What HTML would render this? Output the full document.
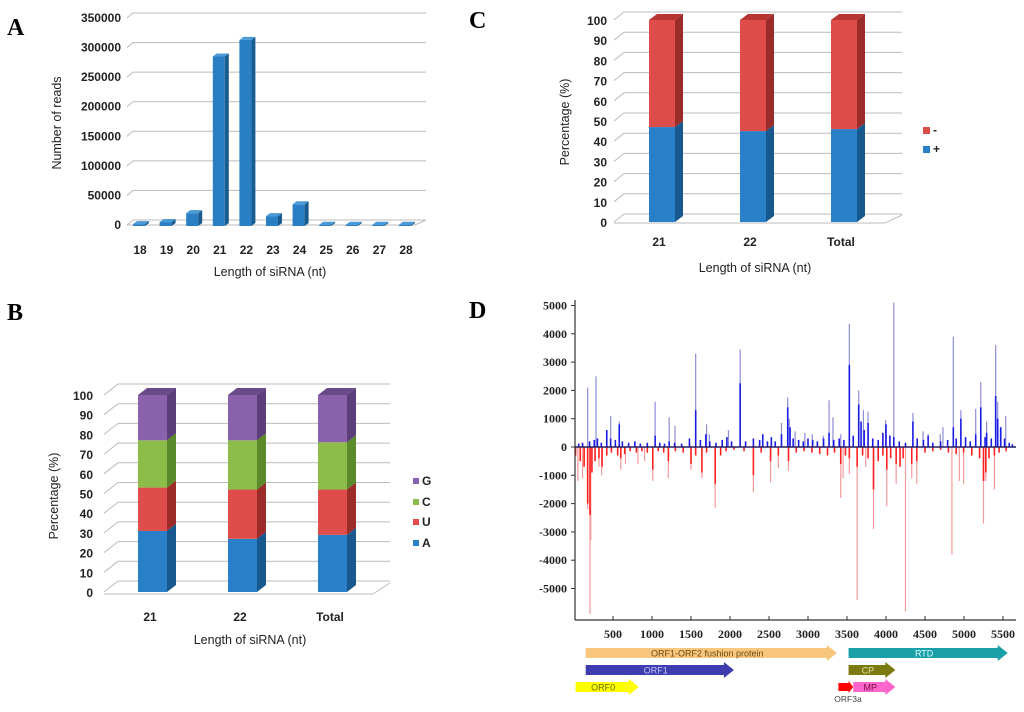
<!DOCTYPE html>
<html><head><meta charset="utf-8"><style>
html,body{margin:0;padding:0;background:#fff;}
svg{display:block;font-family:"Liberation Sans",sans-serif;}
.tk{font-size:12px;font-weight:bold;fill:#222;}
.tt{font-size:12.5px;fill:#222;}
.tm{font-family:"Liberation Serif",serif;font-size:12px;font-weight:bold;fill:#222;}
.pl{font-family:"Liberation Serif",serif;font-size:24px;font-weight:bold;fill:#000;}
</style></head><body>
<svg id="fig" width="1024" height="712" viewBox="0 0 1024 712">
<text class="pl" x="7" y="35">A</text>
<text class="pl" x="469" y="28">C</text>
<text class="pl" x="7" y="320">B</text>
<text class="pl" x="469" y="318">D</text>
<g id="ga"></g>
<g id="gc"></g>
<g id="gb"></g>
<g id="gd"></g>
</svg>
<script>
// ---------- data ----------
const aCats = ["18","19","20","21","22","23","24","25","26","27","28"];
const aVals = [1500,5000,20000,285000,313000,15000,35000,500,500,500,500];
const aTicks = [0,50000,100000,150000,200000,250000,300000,350000];

const cCats = ["21","22","Total"];
const cPlus = [47,45,46];
const cMinus = [53,55,54];
const pctTicks = [0,10,20,30,40,50,60,70,80,90,100];

const bCats = ["21","22","Total"];
const bA = [31,27,29];
const bU = [22,25,23];
const bC = [24,25,24];
const bG = [23,23,24];

const dYTicks = [5000,4000,3000,2000,1000,0,-1000,-2000,-3000,-4000,-5000];
const dXTicks = [500,1000,1500,2000,2500,3000,3500,4000,4500,5000,5500];
// tall light spikes [nt, reads]
const posTall = [[175,2100],[282,2500],[470,1100],[580,900],[1040,1600],[1220,1050],[1295,750],[1560,3300],[1700,800],[1735,450],[1980,600],[2130,3450],[2420,450],[2660,850],[2740,1750],[2760,1000],[2835,550],[2960,500],[3055,450],[3195,400],[3270,1650],[3320,1050],[3420,450],[3530,4350],[3650,2000],[3710,1300],[3770,1250],[3995,950],[4100,5100],[4345,1200],[4475,550],[4540,450],[4695,450],[4730,700],[4863,3900],[4960,1300],[5150,1350],[5215,2300],[5290,900],[5406,3600],[5432,1600],[5475,700],[5535,1100]];
// dense dark spikes [nt, reads]
const posDense = [[60,120],[110,150],[200,200],[260,250],[300,300],[350,150],[420,600],[470,300],[530,250],[580,800],[620,200],[700,150],[780,200],[850,120],[940,150],[1040,400],[1100,150],[1160,120],[1220,200],[1290,150],[1380,120],[1480,300],[1560,1300],[1620,250],[1690,450],[1740,200],[1820,150],[1900,250],[1960,350],[2020,200],[2130,2250],[2200,200],[2300,300],[2380,250],[2420,450],[2480,200],[2530,350],[2580,200],[2660,450],[2740,1400],[2770,700],[2810,300],[2880,250],[2940,200],[3000,300],[3060,250],[3120,200],[3200,300],[3270,500],[3330,250],[3400,300],[3460,250],[3530,2900],[3580,400],[3650,1500],[3680,900],[3720,600],[3770,850],[3830,300],[3900,250],[3960,500],[4000,800],[4050,400],[4100,350],[4170,200],[4250,150],[4345,900],[4400,300],[4480,250],[4540,400],[4600,150],[4700,200],[4790,250],[4863,700],[4900,300],[4960,1000],[5020,350],[5080,200],[5150,450],[5215,1400],[5270,350],[5290,500],[5350,300],[5406,1800],[5432,1000],[5470,700],[5520,300],[5580,150],[5620,100]];
const negTall = [[50,-1200],[110,-1100],[175,-2200],[205,-5900],[215,-3300],[320,-700],[355,-1000],[600,-800],[660,-600],[820,-600],[905,-500],[1010,-1200],[1210,-1100],[1500,-800],[1640,-1100],[1810,-2150],[2300,-1600],[2520,-1250],[2620,-750],[2750,-850],[3420,-1800],[3450,-1100],[3530,-950],[3630,-5400],[3740,-700],[3840,-2900],[4010,-2100],[4130,-1300],[4250,-5800],[4330,-1100],[4395,-1300],[4845,-3800],[4940,-1200],[4995,-1300],[5250,-2700],[5280,-1200],[5390,-1500]];
const negDense = [[20,-300],[80,-500],[130,-700],[175,-2000],[205,-2400],[230,-900],[270,-500],[320,-400],[360,-700],[420,-300],[480,-200],[560,-300],[600,-400],[650,-250],[720,-150],[800,-200],[870,-150],[940,-200],[1010,-800],[1080,-150],[1150,-200],[1210,-500],[1300,-150],[1400,-200],[1500,-600],[1560,-300],[1640,-900],[1700,-200],[1810,-1300],[1880,-300],[1950,-150],[2050,-100],[2180,-150],[2300,-1000],[2400,-200],[2520,-500],[2620,-300],[2750,-500],[2850,-200],[2950,-150],[3050,-200],[3150,-250],[3250,-300],[3340,-200],[3420,-600],[3480,-300],[3530,-400],[3630,-700],[3700,-300],[3770,-400],[3840,-1500],[3900,-500],[3960,-300],[4010,-800],[4060,-400],[4130,-600],[4180,-700],[4220,-400],[4330,-600],[4395,-500],[4500,-200],[4600,-150],[4700,-100],[4800,-200],[4900,-250],[4995,-200],[5100,-300],[5200,-400],[5250,-1200],[5280,-900],[5320,-400],[5390,-300],[5450,-200],[5540,-150]];
const genes = [["ORF1-ORF2 fushion protein",150,3370,0,"#f9c67e","#6a4a10"],["RTD",3520,5560,0,"#1aa0a8","#e0ffff"],["ORF1",150,2050,1,"#3d3db0","#c8c8ff"],["CP",3520,4120,1,"#7a7a10","#e0e0a0"],["ORF0",20,830,2,"#ffff00","#6a6a00"],["MP",3580,4120,2,"#ff66cc","#7a0a40"]];

// ---------- helpers ----------
const NS="http://www.w3.org/2000/svg";
function mk(p,tag,at,txt){const e=document.createElementNS(NS,tag);for(const k in at)e.setAttribute(k,at[k]);if(txt!==undefined)e.textContent=txt;p.appendChild(e);return e;}
function bar3d(g,x,w,y1,y0,dx,dy,front,side,top,showTop){
  const f=mk(g,'rect',{x:x,y:y1,width:w,height:y0-y1,fill:front});
  
  
  const s=mk(g,'polygon',{points:`${x+w},${y1} ${x+w+dx},${y1+dy} ${x+w+dx},${y0+dy} ${x+w},${y0}`,fill:side});
  
  
  if(showTop){const t=mk(g,'polygon',{points:`${x},${y1} ${x+dx},${y1+dy} ${x+w+dx},${y1+dy} ${x+w},${y1}`,fill:top});
  
  }
}
function grid3d(g,xl,xb,xr,xfr,ys,ybase,dx,dy){
  ys.forEach(y=>{const l=mk(g,'polyline',{points:`${xl},${y} ${xl+dx},${y+dy} ${xr},${y+dy}`,fill:'none',stroke:'#bbb','stroke-width':1});
  
  });
  const fl=mk(g,'polyline',{points:`${xl},${ybase} ${xfr},${ybase} ${xr},${ybase+dy}`,fill:'none',stroke:'#bbb','stroke-width':1});
  
  
}

// ---------- Panel A ----------
(function(){
  const g=document.getElementById('ga');
  const yA=v=>225-v*207/350000;
  const xA=i=>140+i*26.6;
  grid3d(g,127,133,426,415,aTicks.map(yA),225,6,-5);
  aTicks.forEach(t=>{const e=mk(g,'text',{x:121,y:yA(t)+4,'text-anchor':'end',class:'tk'},String(t));
    
    });
  aVals.forEach((v,i)=>{bar3d(g,xA(i)-7,12,yA(v),226,4,-3,'#2a7fc4','#175b8f','#4a9ad8',true);});
  aCats.forEach((c,i)=>{const e=mk(g,'text',{x:xA(i),y:254,'text-anchor':'middle',class:'tk'},c);
    
    });
  const xt=mk(g,'text',{x:270,y:276,'text-anchor':'middle',class:'tt'},'Length of siRNA (nt)');
  
  
  const yt=mk(g,'text',{x:0,y:0,'text-anchor':'middle',class:'tt',transform:'translate(61,123) rotate(-90)'},'Number of reads');
  
  
})();

// ---------- Panel C ----------
(function(){
  const g=document.getElementById('gc');
  const yC=v=>222-v*2.02;
  const xC=i=>649+i*91;
  grid3d(g,614,624,902,885,pctTicks.map(yC),223,10,-8);
  pctTicks.forEach(t=>{const e=mk(g,'text',{x:607,y:yC(t)+5,'text-anchor':'end',class:'tk'},String(t));
    
    });
  cCats.forEach((c,i)=>{
    bar3d(g,xC(i),26,yC(cPlus[i]),yC(0),8,-6,'#2a80c8','#17588f','#4a9ad8',false);
    bar3d(g,xC(i),26,yC(cPlus[i]+cMinus[i]),yC(cPlus[i]),8,-6,'#de4d4a','#9c2c2a','#b83533',true);
    const e=mk(g,'text',{x:xC(i)+10,y:246,'text-anchor':'middle',class:'tk','font-size':'10.5px'},c);
    
    
  });
  const l1=mk(g,'rect',{x:923,y:127,width:7,height:7,fill:'#de4d4a'});
  
  
  const l1t=mk(g,'text',{x:933,y:134,class:'tk','font-size':'10px'},'-');
  
  
  const l2=mk(g,'rect',{x:923,y:146,width:7,height:7,fill:'#2a80c8'});
  
  
  const l2t=mk(g,'text',{x:933,y:153,class:'tk','font-size':'10px'},'+');
  
  
  const xt=mk(g,'text',{x:755,y:272,'text-anchor':'middle',class:'tt'},'Length of siRNA (nt)');
  
  
  const yt=mk(g,'text',{x:0,y:0,'text-anchor':'middle',class:'tt',transform:'translate(569,122) rotate(-90)'},'Percentage (%)');
  
  
})();

// ---------- Panel B ----------
(function(){
  const g=document.getElementById('gb');
  const yB=v=>592-v*1.97;
  const xB=i=>138+i*90;
  grid3d(g,104,119,390,373,pctTicks.map(yB),594,14,-11);
  pctTicks.forEach(t=>{const e=mk(g,'text',{x:93,y:yB(t)+5,'text-anchor':'end',class:'tk'},String(t));
    
    });
  const series=[[bA,'#2a80c8','#17588f'],[bU,'#de4d4a','#9c2c2a'],[bC,'#8cbd4a','#5a8a2a'],[bG,'#8a62ab','#5c3f7a']];
  bCats.forEach((c,i)=>{
    let acc=0;
    series.forEach((s,k)=>{const v=s[0][i];bar3d(g,xB(i),29,yB(acc+v),yB(acc),9,-7,s[1],s[2],'#6a4a8a',k===3);acc+=v;});
    const e=mk(g,'text',{x:xB(i)+12,y:621,'text-anchor':'middle',class:'tk'},c);
    
    
  });
  const leg=[['G','#8a62ab',485],['C','#8cbd4a',506],['U','#de4d4a',526],['A','#2a80c8',547]];
  leg.forEach(l=>{const r=mk(g,'rect',{x:413,y:l[2]-7,width:6,height:6,fill:l[1]});
    
    
    const t=mk(g,'text',{x:422,y:l[2],class:'tk','font-size':'10px'},l[0]);
    
    });
  const xt=mk(g,'text',{x:250,y:644,'text-anchor':'middle',class:'tt'},'Length of siRNA (nt)');
  
  
  const yt=mk(g,'text',{x:0,y:0,'text-anchor':'middle',class:'tt',transform:'translate(58,496) rotate(-90)'},'Percentage (%)');
  
  
})();

// ---------- Panel D ----------
(function(){
  const g=document.getElementById('gd');
  const xD=n=>574+n*0.078;
  const yD=v=>447-v*0.0283;
  const draw=(arr,col,w)=>arr.forEach(p=>{const l=mk(g,'line',{x1:xD(p[0]),x2:xD(p[0]),y1:yD(0),y2:yD(p[1]),stroke:col,'stroke-width':w});
    
    });
  draw(posTall,'#8c8cd6',1.2);
  draw(negTall,'#f39a9a',1.2);
  draw(posDense,'#1a1ae6',1.6);
  draw(negDense,'#ff2020',1.6);
  const z=mk(g,'line',{x1:575,x2:1016,y1:447,y2:447,stroke:'#222060','stroke-width':1.5});
  
  
  const ya=mk(g,'line',{x1:575,x2:575,y1:300,y2:620,stroke:'#333','stroke-width':1.2});
  
  
  const xa=mk(g,'line',{x1:575,x2:1016,y1:620,y2:620,stroke:'#333','stroke-width':1.2});
  
  
  dYTicks.forEach(t=>{mk(g,'line',{x1:571,x2:575,y1:yD(t),y2:yD(t),stroke:'#333'});
    const e=mk(g,'text',{x:567,y:yD(t)+4,'text-anchor':'end',class:'tm'},String(t));
    
    });
  dXTicks.forEach(t=>{mk(g,'line',{x1:xD(t),x2:xD(t),y1:616,y2:620,stroke:'#333'});
    const e=mk(g,'text',{x:xD(t),y:638,'text-anchor':'middle',class:'tm'},String(t));
    
    });
  const rowY=[653,670,687];
  genes.forEach(gn=>{const x0=xD(gn[1]),x1=xD(gn[2]),y=rowY[gn[3]];
    const a=mk(g,'polygon',{points:`${x0},${y-5} ${x1-10},${y-5} ${x1-10},${y-8} ${x1},${y} ${x1-10},${y+8} ${x1-10},${y+5} ${x0},${y+5}`,fill:gn[4]});
    
    
    const t=mk(g,'text',{x:(x0+x1-8)/2,y:y+3.5,'text-anchor':'middle','font-size':'9px',fill:gn[5]},gn[0]);
    
    });
  const o=mk(g,'polygon',{points:`${xD(3390)},${687-4} ${xD(3520)},${687-4} ${xD(3520)},${681} ${xD(3580)},687 ${xD(3520)},693 ${xD(3520)},${691} ${xD(3390)},${691}`,fill:'#ff0000'});
  
  
  const ot=mk(g,'text',{x:848,y:702,'text-anchor':'middle','font-size':'8.5px',fill:'#444'},'ORF3a');
  
  
})();
</script>
</body></html>
